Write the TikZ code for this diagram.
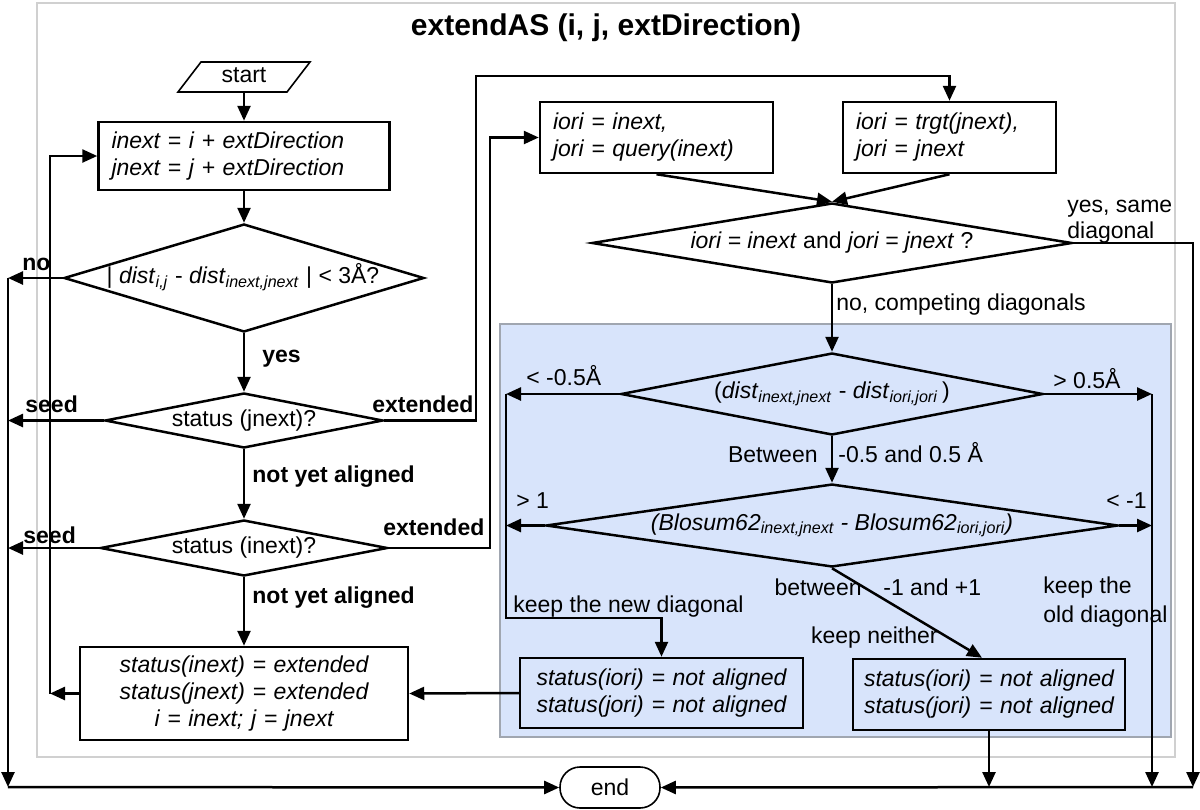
\documentclass[tikz,border=0pt]{standalone}
\usepackage{fontspec}
\setmainfont{Liberation Sans}
\usetikzlibrary{arrows.meta,shapes.geometric,calc}
\definecolor{bluefill}{RGB}{216,228,251}
\definecolor{bluegray}{RGB}{160,166,176}
\definecolor{framegray}{RGB}{208,208,208}
\begin{document}
\begin{tikzpicture}[x=0.5pt,y=-0.5pt,
  every node/.style={font=\fontsize{11.5}{13.5}\selectfont, inner sep=0pt},
  arr/.style={line width=1.25pt, -{Triangle[length=7.5pt,width=6.5pt]}},
  box/.style={draw, line width=1.25pt, rectangle, inner xsep=6.5pt, inner ysep=0pt,
              font=\fontsize{11.5}{13.5}\selectfont\itshape},
  dia/.style={draw, line width=1.25pt, diamond, inner sep=0pt},
  blbl/.style={font=\fontsize{11.5}{13.5}\selectfont\bfseries},
  thinshape/.style={line width=0.8pt}
]
\useasboundingbox (0,0) rectangle (1200,809);
% frames
\draw[framegray, line width=1pt] (37,3) rectangle (1175,757);
\draw[draw=bluegray, fill=bluefill, line width=0.8pt] (500,324) rectangle (1171,737);

\node[font=\fontsize{15}{18}\selectfont\bfseries, anchor=base] (title) at (606,35) {extendAS (i, j, extDirection)};

% left column
\draw[thinshape] (178,92) -- (201,62) -- (310,62) -- (287,92) -- cycle;
\node[minimum height=15pt] (st) at (244,77) {\raisebox{2pt}{start}};
\node[box, text width=132.5pt, minimum height=34pt, align=left] (b1) at (244,156)
  {inext = i + extDirection\\ jnext = j + extDirection};
\node[dia, minimum width=180pt, minimum height=54pt] (d1) at (244,278) {};
\node (d1t) at (243,277) {| \textit{dist}\textsubscript{\textit{i,j}} - \textit{dist}\textsubscript{\textit{inext,jnext}} | < 3Å?};
\node[dia, minimum width=139pt, minimum height=27.5pt] (d2) at (244,420.5) {};
\node (d2t) at (244,420.5) {status (jnext)?};
\node[dia, minimum width=143.5pt, minimum height=28pt] (d3) at (244,548) {};
\node (d3t) at (244,548) {status (inext)?};
\node[box, text width=151pt, minimum height=46.5pt, align=center] (b3) at (244,693.5)
  {status(inext) = extended\\ status(jnext) = extended\\ i = inext; j = jnext};

% right part
\node[box, text width=103.5pt, minimum height=35.5pt, align=left] (bi) at (656.5,137.5)
  {iori = inext,\\ jori = query(inext)};
\node[box, text width=93.5pt, minimum height=35.5pt, align=left] (bt) at (949.5,137.5)
  {iori = trgt(jnext),\\ jori = jnext};
\node[dia, minimum width=240pt, minimum height=40pt] (d4) at (832,243) {};
\node (d4t) at (832,243) {\textit{iori = inext} and \textit{jori = jnext} ?};
\node[dia, minimum width=211pt, minimum height=41pt] (d5) at (832,394) {};
\node (d5t) at (832,394) {(\textit{dist}\textsubscript{\textit{inext,jnext}} - \textit{dist}\textsubscript{\textit{iori,jori}}\,)};
\node[dia, minimum width=286pt, minimum height=41.5pt] (d6) at (832,525.5) {};
\node (d6t) at (832,525.5) {\textit{(Blosum62\textsubscript{inext,jnext} - Blosum62\textsubscript{iori,jori})}};
\node[box, fill=bluefill, text width=129pt, inner xsep=6.25pt, minimum height=35pt, align=center] (bn) at (661.5,693)
  {status(iori) = not aligned\\ status(jori) = not aligned};
\node[box, fill=bluefill, text width=129pt, inner xsep=3.5pt, minimum height=35.5pt, align=center] (bx) at (989,694.5)
  {status(iori) = not aligned\\ status(jori) = not aligned};

\node[draw, line width=0.8pt, rounded corners=10pt, minimum width=50pt, minimum height=20.5pt] (fin) at (610,787.5) {end};

% helper coordinates
\coordinate (L) at (8,787);
\coordinate (LP) at (50,0);
\coordinate (E1) at (476,76);
\coordinate (E2) at (490,0);
\coordinate (R) at (1193,787);
\coordinate (BR) at (1152,787);
\coordinate (BL) at (506,618);

% connectors left
\draw[arr] (st.south) -- (b1.north);
\draw[arr] (b1.south) -- (d1.north);
\draw[arr] (d1.south) -- (d2.north);
\draw[arr] (d2.south) -- (d3.north);
\draw[arr] (d3.south) -- (b3.north);
\draw[arr] (d1.west) -- (d1.west -| L);
\draw[arr] (d2.west) -- (d2.west -| L);
\draw[arr] (d3.west) -- (d3.west -| L);
\draw[arr] (d1.west -| L) -- (L);
\draw[arr] (L) -- (fin.west);
\draw[arr] (b3.west) -- (b3.west -| LP);
\draw[arr] (b3.west -| LP) |- (b1.west);
\draw[arr] (d2.east) -| (E1) -| (bt.north);
\draw[arr] (d3.east) -| (E2 |- bi.west) -- (bi.west);

% connectors right
\draw[arr] (bi.south) -- (d4.north);
\draw[arr] (bt.south) -- (d4.north);
\draw[arr] (d4.east) -| (R);
\draw[arr] (R) -- (fin.east);
\draw[arr] (d4.south) -- (d5.north);
\draw[arr] (d5.south) -- (d6.north);
\draw[arr] (d5.west) -- (d5.west -| BL);
\draw[arr] (d6.west) -- (d6.west -| BL);
\draw[arr] (d5.west -| BL) -- (BL) -| (bn.north);
\draw[arr] (d5.east) -- (d5.east -| BR);
\draw[arr] (d6.east) -- (d6.east -| BR);
\draw[arr] (d5.east -| BR) -- (BR);
\draw[arr] (d6.south) -- ([xshift=-3.5pt]bx.north);
\draw[arr] (bx.south) -- (bx.south |- R);
\draw[arr] (bn.west) -- (b3.east);

% labels
\node[blbl, anchor=base west] (lno) at (22,270) {no};
\node[blbl, anchor=base west] (lyes) at (262,362) {yes};
\node[blbl, anchor=base west] (lseed1) at (25,412) {seed};
\node[blbl, anchor=base west] (lseed2) at (23,543) {seed};
\node[blbl, anchor=base west] (lext1) at (372,412) {extended};
\node[blbl, anchor=base west] (lext2) at (383,535) {extended};
\node[blbl, anchor=base west] (lnya1) at (252,482) {not yet aligned};
\node[blbl, anchor=base west] (lnya2) at (252,603) {not yet aligned};
\node[anchor=base west] (lys1) at (1067,212) {yes, same};
\node[anchor=base west] (lys2) at (1067,238) {diagonal};
\node[anchor=base west] (lcomp) at (836,310) {no, competing diagonals};
\node[anchor=base west] (lm05) at (526,385) {< -0.5Å};
\node[anchor=base west] (lp05) at (1053,388) {> 0.5Å};
\node[anchor=base east] (lbetw) at (818,462) {Between};
\node[anchor=base west] (lrange) at (838,462) {-0.5 and 0.5 Å};
\node[anchor=base west] (lgt1) at (516,508) {> 1};
\node[anchor=base west] (llt1) at (1106,508) {< -1};
\node[anchor=base east] (lbetw2) at (862,595) {between};
\node[anchor=base west] (lrange2) at (883,595) {-1 and +1};
\node[anchor=base west] (lnew) at (513,612) {keep the new diagonal};
\node[anchor=base east] (lneither) at (938,643) {keep neither};
\node[anchor=base west] (lold1) at (1043,593) {keep the};
\node[anchor=base west] (lold2) at (1043,622) {old diagonal};
\end{tikzpicture}
\end{document}
